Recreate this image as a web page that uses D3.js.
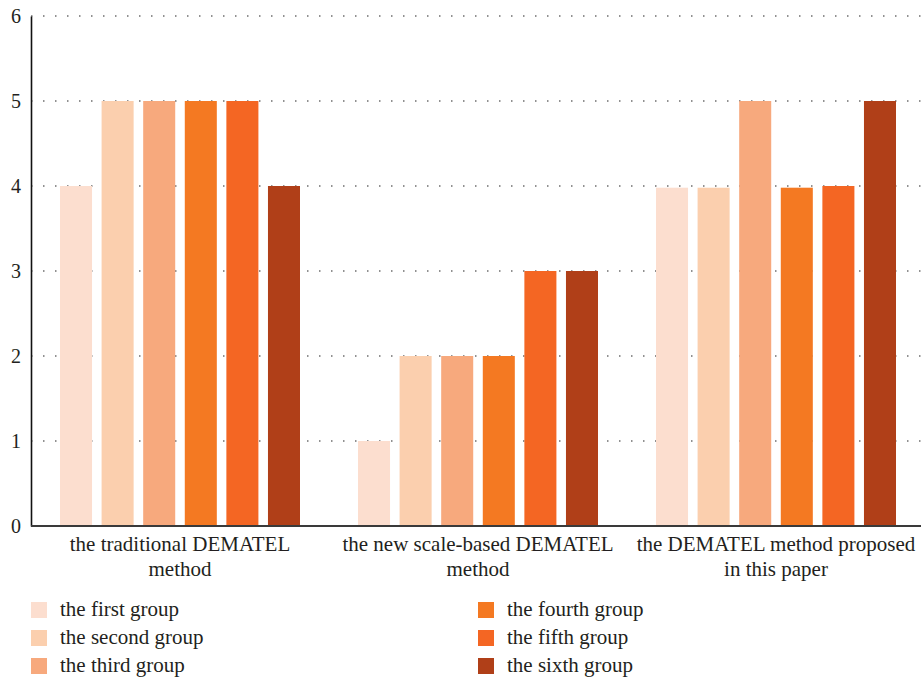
<!DOCTYPE html>
<html>
<head>
<meta charset="utf-8">
<script src="https://cdn.jsdelivr.net/npm/d3@7"></script>
<style>
  html, body { margin: 0; padding: 0; background: #fff; }
  svg { display: block; }
  text { font-family: "Liberation Serif", "DejaVu Serif", serif; fill: #231f20; }
</style>
</head>
<body>
<svg id="chart" width="921" height="680"></svg>
<script>
// Methods compared along the x axis (each label split over two lines)
const methods = [
  ["the traditional DEMATEL", "method"],
  ["the new scale-based DEMATEL", "method"],
  ["the DEMATEL method proposed", "in this paper"]
];
const groups = ["the first group", "the second group", "the third group",
                "the fourth group", "the fifth group", "the sixth group"];
const groupColors = ["#fcdecf", "#fbcfae", "#f7a97d", "#f47922", "#f46623", "#b03f18"];

// One value per group for each method
const traditional = [4, 5, 5, 5, 5, 4];
const scaleBased  = [1, 2, 2, 2, 3, 3];
const proposed    = [3.98, 3.98, 5, 3.98, 4, 5];
const series = [traditional, scaleBased, proposed];

const yTicks = [0, 1, 2, 3, 4, 5, 6];

const svg = d3.select("#chart");
const plotLeft = 31, plotBottom = 526, plotTop = 16;
const labelFont = "'Liberation Serif', 'DejaVu Serif', serif";

const x0 = d3.scaleBand().domain(d3.range(methods.length)).range([plotLeft, 925]).padding(0);
const x1 = d3.scaleBand().domain(d3.range(groups.length))
  .range([0, 240]).paddingInner(0.23).paddingOuter(0);
const y = d3.scaleLinear().domain([0, 6]).range([plotBottom, plotTop]);

// Dotted horizontal gridlines
svg.append("g")
  .selectAll("line")
  .data(yTicks.filter(d => d > 0))
  .join("line")
  .attr("x1", plotLeft).attr("x2", 921)
  .attr("y1", d => y(d)).attr("y2", d => y(d))
  .attr("stroke", "#6d6d6d")
  .attr("stroke-width", 1.5)
  .attr("stroke-dasharray", "1.5,10.5");

// Bars
const groupG = svg.append("g")
  .selectAll("g")
  .data(series)
  .join("g")
  .attr("transform", (d, i) => `translate(${x0(i) + x0.bandwidth() / 2 - 120},0)`);

groupG.selectAll("rect")
  .data(d => d)
  .join("rect")
  .attr("x", (d, i) => x1(i))
  .attr("width", x1.bandwidth())
  .attr("y", d => y(d))
  .attr("height", d => plotBottom - y(d))
  .attr("fill", (d, i) => groupColors[i]);

// Y axis
const yAxis = svg.append("g")
  .attr("transform", `translate(${plotLeft},0)`)
  .call(d3.axisLeft(y).tickValues(yTicks).tickSize(0).tickPadding(10).tickFormat(d3.format("d")))
  .attr("font-family", labelFont)
  .attr("font-size", 20);
yAxis.select(".domain").attr("stroke", "#111").attr("stroke-width", 1.6);
yAxis.selectAll("text").attr("fill", "#231f20");

// X axis baseline
svg.append("line")
  .attr("x1", plotLeft).attr("x2", 921)
  .attr("y1", plotBottom).attr("y2", plotBottom)
  .attr("stroke", "#3a3a3a").attr("stroke-width", 2);

// Method labels
const labels = svg.append("g")
  .selectAll("text")
  .data(methods)
  .join("text")
  .attr("text-anchor", "middle")
  .attr("font-size", 21)
  .attr("x", (d, i) => x0(i) + x0.bandwidth() / 2)
  .attr("y", 551);
labels.selectAll("tspan")
  .data(d => d)
  .join("tspan")
  .attr("x", function () { return d3.select(this.parentNode).attr("x"); })
  .attr("dy", (d, i) => i === 0 ? 0 : 25)
  .text(d => d);

// Legend in two columns of three
const legend = svg.append("g")
  .selectAll("g")
  .data(groups)
  .join("g")
  .attr("transform", (d, i) => `translate(${i < 3 ? 31 : 478},${602 + (i % 3) * 28})`);
legend.append("rect")
  .attr("width", 16).attr("height", 16)
  .attr("fill", (d, i) => groupColors[i]);
legend.append("text")
  .attr("x", 29).attr("y", 14)
  .attr("font-size", 21)
  .text(d => d);
</script>
</body>
</html>
